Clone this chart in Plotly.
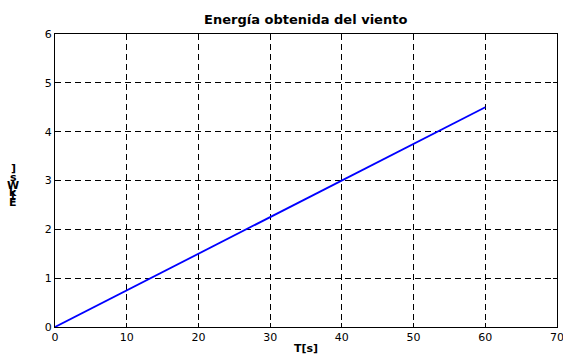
import plotly.graph_objects as go

t_s = [0, 10, 20, 30, 40, 50, 60]
energy_kws = [0, 0.75, 1.5, 2.25, 3.0, 3.75, 4.5]
x_ticks = [0, 10, 20, 30, 40, 50, 60, 70]
y_ticks = [0, 1, 2, 3, 4, 5, 6]
title_text = "Energía obtenida del viento"
x_label = "T[s]"
y_label_chars = ["E", "[", "k", "W", "s", "]"]

fig = go.Figure()
fig.add_trace(go.Scatter(x=t_s, y=energy_kws, mode="lines",
                         line=dict(color="#0000ff", width=1.8), showlegend=False))

font = "DejaVu Sans, Verdana, sans-serif"
axis_common = dict(showline=True, linecolor="black", linewidth=1.3, mirror="ticks",
                   ticks="inside", ticklen=4, tickcolor="black", automargin=False,
                   ticklabeloverflow="allow",
                   showgrid=True, gridcolor="black", griddash="6px,4px", gridwidth=0.8,
                   zeroline=False, tickfont=dict(family=font, size=11, color="black"))

fig.update_xaxes(range=[0, 70], tickvals=x_ticks, **axis_common,
                 title=dict(text="<b>%s</b>" % x_label, font=dict(family=font, size=11, color="black"), standoff=0))
fig.update_yaxes(range=[0, 6], tickvals=y_ticks, **axis_common)

shifts = [-22, -15, -12, -5, 3, 12]
for ch, sh in zip(y_label_chars, shifts):
    fig.add_annotation(text="<b>%s</b>" % ch, xref="paper", yref="paper", x=0, y=0.5,
                       xshift=-42, yshift=sh, showarrow=False,
                       font=dict(family=font, size=11, color="black"),
                       xanchor="center", yanchor="middle")

fig.update_layout(
    width=563, height=356,
    margin=dict(l=55, r=6, t=34, b=29),
    paper_bgcolor="white", plot_bgcolor="white",
    title=dict(text="<b>%s</b>" % title_text, x=0.543, xanchor="center", y=0.944, yanchor="middle",
               font=dict(family=font, size=13, color="black")),
)

fig.write_html("out.html", config={"displayModeBar": False},
               post_script="document.body.style.margin='0';document.body.style.overflow='hidden';")
